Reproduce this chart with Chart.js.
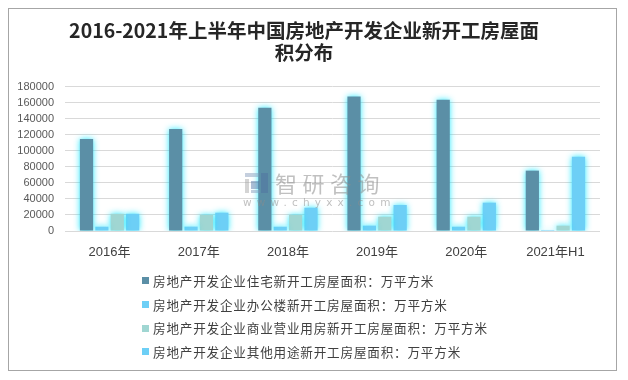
<!DOCTYPE html>
<html>
<head>
<meta charset="utf-8">
<script src="https://cdn.jsdelivr.net/npm/chart.js@4.4.1/dist/chart.umd.min.js"></script>
<style>
  html, body { margin: 0; padding: 0; background: #fff; }
  #wrap { position: relative; width: 628px; height: 380px; overflow: hidden; }
  #frame { position: absolute; left: 8px; top: 8px; width: 607px; height: 361px; border: 1px solid #a6a6a6; box-sizing: content-box; }
  #c { position: absolute; left: 0; top: 0; }
  #legend { position: absolute; left: 142px; top: 269px; font-family: "Noto Sans CJK SC", sans-serif; font-size: 12.6px; color: #404040; letter-spacing: 0.8px; }
  #legend .row { height: 23.7px; line-height: 23.7px; white-space: nowrap; display: flex; align-items: center; }
  #legend .sw { width: 7px; height: 7px; margin-right: 4px; display: inline-block; }
  #wm { position: absolute; left: 243px; top: 169px; color: rgba(140,140,140,0.55); font-family: "Noto Sans CJK SC", sans-serif; pointer-events: none; }
  #wm .big { font-size: 22px; letter-spacing: 5.5px; margin-left: 32px; line-height: 27px; }
  #wm .small { font-family: "DejaVu Sans", sans-serif; font-size: 10.5px; letter-spacing: 5.2px; line-height: 12px; }
  #logo { position: absolute; left: 245px; top: 173px; width: 24px; height: 20px; opacity: 0.45; }
  #logo div { position: absolute; }
</style>
</head>
<body>
<div id="wrap">
  <div id="frame"></div>
  <canvas id="c" width="628" height="380"></canvas>
  <div id="logo">
    <div style="left:0;top:0;width:14px;height:4px;background:#7f95b5"></div>
    <div style="left:0;top:6px;width:4px;height:14px;background:#a0a0a0"></div>
    <div style="left:6px;top:8px;width:8px;height:8px;background:#4f6f9f"></div>
    <div style="left:16px;top:0;width:7px;height:20px;background:#4f6f9f"></div>
    <div style="left:6px;top:17px;width:9px;height:3px;background:#7f95b5"></div>
  </div>
  <div id="wm"><div class="big">智研咨询</div><div class="small">www.chyxx.com</div></div>
  <div id="legend"></div>
</div>
<script>
const categories = ['2016年', '2017年', '2018年', '2019年', '2020年', '2021年H1'];
const residential = [115000, 127500, 153800, 167900, 163800, 75400];
const office = [5400, 5500, 5400, 6700, 5400, 1300];
const commercial = [21500, 20000, 20000, 17900, 17900, 6700];
const other = [21500, 22900, 29100, 32500, 35400, 92900];
const seriesNames = [
  '房地产开发企业住宅新开工房屋面积：万平方米',
  '房地产开发企业办公楼新开工房屋面积：万平方米',
  '房地产开发企业商业营业用房新开工房屋面积：万平方米',
  '房地产开发企业其他用途新开工房屋面积：万平方米'
];
const yTicks = [0, 20000, 40000, 60000, 80000, 100000, 120000, 140000, 160000, 180000];
const colors = ['#5b8fa6', '#6dcff6', '#a0d6d2', '#6dcff6'];

const glow = {
  id: 'glow',
  beforeDatasetsDraw(chart) {
    const ctx = chart.ctx;
    ctx.save();
    ctx.shadowColor = 'rgba(0,230,255,0.85)';
    ctx.shadowBlur = 6;
  },
  afterDatasetsDraw(chart) { chart.ctx.restore(); }
};

const htmlLegend = {
  id: 'htmlLegend',
  afterUpdate(chart) {
    const box = document.getElementById('legend');
    box.innerHTML = '';
    chart.data.datasets.forEach(ds => {
      const row = document.createElement('div');
      row.className = 'row';
      const sw = document.createElement('span');
      sw.className = 'sw';
      sw.style.background = ds.backgroundColor;
      const t = document.createElement('span');
      t.textContent = ds.label;
      row.appendChild(sw); row.appendChild(t);
      box.appendChild(row);
    });
  }
};

const dataArrays = [residential, office, commercial, other];
new Chart(document.getElementById('c'), {
  type: 'bar',
  data: {
    labels: categories,
    datasets: dataArrays.map((d, i) => ({
      label: seriesNames[i],
      data: d,
      backgroundColor: colors[i],
      borderWidth: 0,
      categoryPercentage: 0.69,
      barPercentage: 0.86
    }))
  },
  options: {
    responsive: false,
    animation: false,
    devicePixelRatio: 1,
    layout: { padding: { left: 8, right: 28, top: 8, bottom: 109 } },
    plugins: {
      legend: { display: false },
      tooltip: { enabled: false },
      title: {
        display: true,
        text: ['2016-2021年上半年中国房地产开发企业新开工房屋面', '积分布'],
        color: '#262626',
        font: { family: '"Noto Sans CJK SC", sans-serif', size: 19.5, weight: 'bold', lineHeight: 1.1 },
        padding: { top: 12, bottom: 24 }
      }
    },
    scales: {
      x: {
        grid: { display: false },
        border: { display: false },
        ticks: { color: '#404040', font: { family: '"Liberation Sans", "Noto Sans CJK SC", sans-serif', size: 13 }, padding: 6, maxRotation: 0 },
        afterFit(s) { s.height = 40; }
      },
      y: {
        min: 0, max: 180000,
        afterBuildTicks(s) { s.ticks = yTicks.map(v => ({ value: v })); },
        grid: { color: '#d9d9d9', drawTicks: false, lineWidth: 1 },
        border: { display: false },
        ticks: { color: '#595959', autoSkip: false, font: { family: '"Liberation Sans", sans-serif', size: 11 }, padding: 11, callback: v => String(v) },
        afterFit(s) { s.width = 57; }
      }
    }
  },
  plugins: [glow, htmlLegend]
});
</script>
</body>
</html>
